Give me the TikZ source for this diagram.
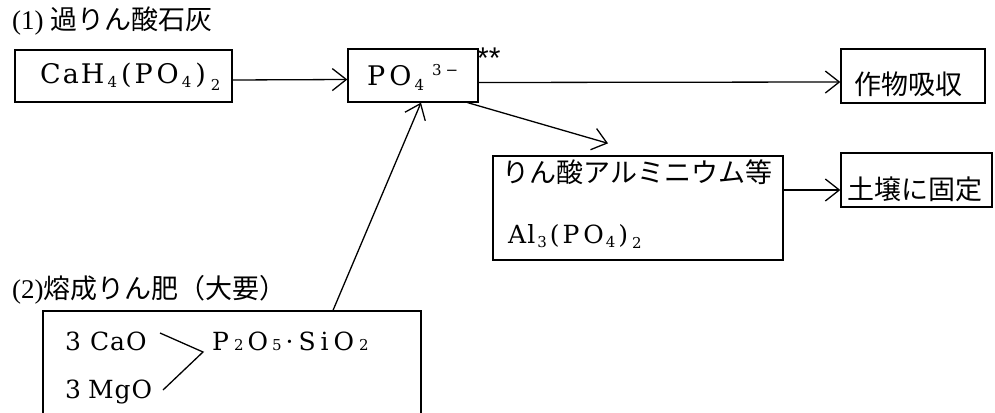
\documentclass[tikz,border=0pt]{standalone}
\usepackage{fontspec}
\setmainfont{Liberation Serif}
\newfontfamily\jp{Noto Sans CJK JP}
\newfontfamily\stfont{Liberation Sans}
\newfontfamily\chem{DejaVu Serif}
\usetikzlibrary{arrows.meta}
\newcommand\gp[1]{\hspace{#1pt}}
\newcommand\fsb[2]{\raisebox{#1pt}{\fontsize{15}{15}\selectfont #2}}
\tikzset{
 box/.style={draw,line width=1.3pt,inner sep=0pt},
 conn/.style={line width=1.3pt,-{Straight Barb[length=14pt,width=22pt,line width=1.3pt]}},
 plain/.style={line width=1.3pt},
 jt/.style={inner sep=0pt,font=\jp\fontsize{27}{30}\selectfont},
 ft/.style={inner sep=0pt,anchor=base west,font=\chem\fontsize{27}{30}\selectfont},
 fs/.style={inner sep=0pt,anchor=base west,font=\chem\fontsize{25}{30}\selectfont},
 tt/.style={inner sep=0pt,anchor=west,font=\fontsize{27}{30}\selectfont},
}
\begin{document}
\begin{tikzpicture}[x=1pt,y=-1pt]
\clip (0,0) rectangle (995,412);
\node[tt] (t1) at (12,21) {(1) {\jp 過りん酸石灰}};
\node[box,minimum width=217pt,minimum height=52pt] (A) at (123.5,76) {};
\node[ft] (Atxt) at (40,83) {C\gp{2}a\gp{2}H\gp{3}\fsb{-4}{4}\gp{4}(\gp{3}P\gp{4}O\gp{3}\fsb{-4}{4}\gp{4})\gp{5}\fsb{-7}{2}};
\node[box,minimum width=130pt,minimum height=53pt] (B) at (413,75.5) {};
\node[ft] (Btxt) at (367,85) {P\gp{4}O\gp{3}\fsb{-5}{4}\gp{8}\fsb{10}{3\gp{4}−}};
\node[inner sep=0pt,anchor=base west,font=\stfont\fontsize{30}{30}\selectfont] (st) at (477,69) {**};
\node[box,minimum width=144pt,minimum height=54pt] (C) at (913,76) {};
\node[jt] (Ctxt) at (908,84) {作物吸収};
\node[box,minimum width=290pt,minimum height=104pt] (D) at (638,208) {};
\node[jt] (D1) at (637.5,172) {りん酸アルミニウム等};
\node[fs] (D2) at (508,243) {A\gp{1}l\gp{2}\fsb{-4}{3}\gp{3}(\gp{3}P\gp{4}O\gp{2}\fsb{-4}{4}\gp{3})\gp{4}\fsb{-5}{2}};
\node[box,minimum width=151pt,minimum height=54pt] (E) at (916.5,180) {};
\node[jt] (Etxt) at (915,189) {土壌に固定};
\node[tt] (t2) at (12,290) {(2){\jp 熔成りん肥（大要）}};
\node[box,minimum width=378pt,minimum height=130pt] (F) at (232,376) {};
\node[fs] (cao) at (65,350) {3\gp{9}C\gp{1}a\gp{1}O};
\node[fs] (mgo) at (65,398) {3\gp{7}M\gp{1}g\gp{1}O};
\node[fs] (p2o5) at (212,350) {P\gp{5}\fsb{0}{2}\gp{4}O\gp{4}\fsb{0}{5}\gp{4}·\gp{5}S\gp{5}i\gp{5}O\gp{5}\fsb{0}{2}};
\coordinate (c1) at (160,333);
\coordinate (j) at (203,352);
\coordinate (c2) at (163,390);
\draw[plain] (c1) -- (j) -- (c2);
\draw[conn] ([yshift=-4pt]A.east) -- ([yshift=-4pt]B.west);
\draw[conn] ([yshift=-7pt]B.east) -- ([yshift=-6pt]C.west);
\draw[conn] ([xshift=-11pt]B.south east) -- ([xshift=-30pt,yshift=12pt]D.north);
\draw[conn] ([yshift=18pt]D.east) -- ([yshift=-10pt]E.west);
\draw[conn] ([xshift=101pt]F.north) -- ([xshift=8pt]B.south);
\end{tikzpicture}
\end{document}
